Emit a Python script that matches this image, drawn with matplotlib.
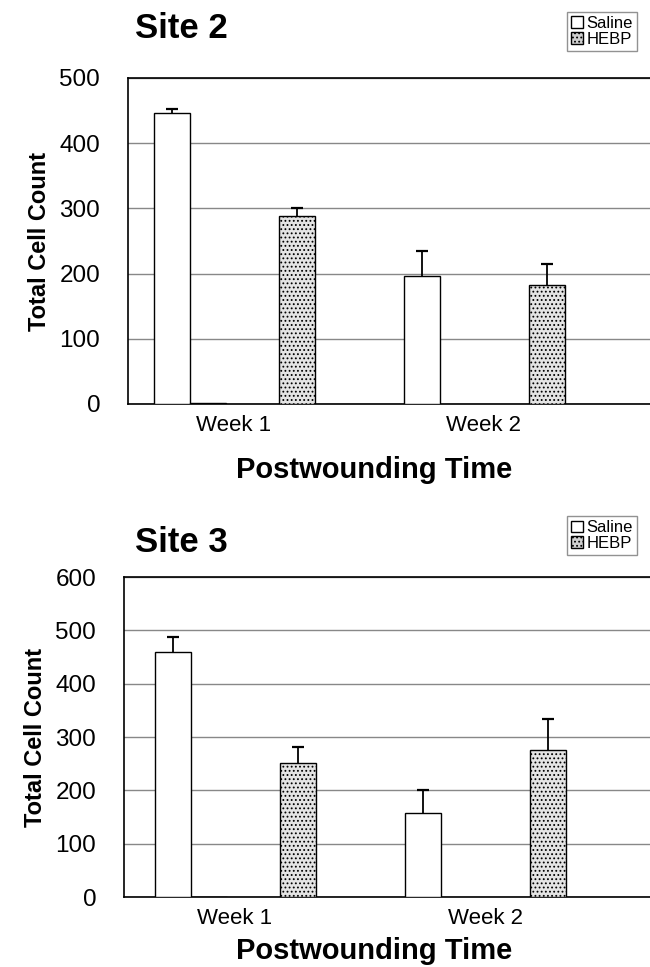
import matplotlib
matplotlib.use("Agg")
import matplotlib.pyplot as plt
from matplotlib.patches import Patch

plt.rcParams['font.family'] = ['Liberation Sans', 'DejaVu Sans']
plt.rcParams['hatch.color'] = '#b8b8b8'
plt.rcParams['hatch.linewidth'] = 0.8

# Data
weeks = ["Week 1", "Week 2"]
site2_saline = [446, 197]
site2_saline_err = [6, 37]
site2_hebp = [288, 182]
site2_hebp_err = [13, 32]

site3_saline = [460, 158]
site3_saline_err = [28, 42]
site3_hebp = [251, 276]
site3_hebp_err = [30, 58]

W, H = 650, 967
fig = plt.figure(figsize=(W / 100, H / 100), dpi=100)


def plus_err(ax, xs, vals, errs):
    # Excel style "plus" error bars: a stem up from the bar and a cap at the top
    tops = [v + e for v, e in zip(vals, errs)]
    ax.vlines(xs, vals, tops, color='black', linewidth=1.3, zorder=4)
    ax.scatter(xs, tops, marker='_', s=70, color='black', linewidths=1.6, zorder=4)


def make_panel(rect, title, saline, saline_err, hebp, hebp_err, ymax, xlim, title_y, leg_y, xlabel_y):
    ax = fig.add_axes(rect)
    x = [0, 1]
    bw = 0.144
    sx = [i - 0.25 for i in x]
    hx = [i + 0.25 for i in x]
    ax.bar(sx, saline, width=bw, color='white', edgecolor='black', linewidth=1.0, zorder=3)
    # empty series slot (zero height) drawn by the original chart
    ax.bar([-0.105], [0.8], width=bw, color='white', edgecolor='black', linewidth=1.0, zorder=3)
    ax.bar(hx, hebp, width=bw, color='#e4e4e4', edgecolor='black', linewidth=1.0,
           hatch='....', zorder=3)
    plus_err(ax, sx, saline, saline_err)
    plus_err(ax, hx, hebp, hebp_err)

    ax.set_xlim(*xlim)
    ax.set_ylim(0, ymax)
    ax.set_yticks(range(0, ymax + 1, 100))
    ax.set_xticks(x)
    ax.set_xticklabels(weeks)
    ax.tick_params(axis='x', labelsize=16, length=0, pad=8)
    ax.tick_params(axis='y', labelsize=17.5, length=0, pad=20)
    ax.yaxis.grid(True, color='#888888', linewidth=1.0)
    ax.set_axisbelow(True)
    ax.spines['right'].set_visible(False)
    for s in ['left', 'bottom', 'top']:
        ax.spines[s].set_linewidth(1.2)
    ax.set_ylabel("Total Cell Count", fontsize=17, fontweight='bold', labelpad=6)

    fig.text(135 / W, 1 - title_y / H, title, fontsize=25, fontweight='bold', va='center', ha='left')
    fig.text(374 / W, 1 - xlabel_y / H, "Postwounding Time", fontsize=21, fontweight='bold',
             va='center', ha='center')

    handles = [Patch(facecolor='white', edgecolor='black', label='Saline'),
               Patch(facecolor='#cfcfcf', edgecolor='black', hatch='....', label='HEBP')]
    fig.legend(handles=handles, loc='upper right', bbox_to_anchor=(637 / W, 1 - leg_y / H),
               fontsize=12, frameon=True, fancybox=False, edgecolor='#777777',
               handlelength=0.7, handleheight=0.7, handletextpad=0.2, borderpad=0.25,
               labelspacing=0.05, borderaxespad=0)
    return ax


make_panel([128 / W, 1 - 404 / H, 522 / W, (404 - 78) / H], "Site 2",
           site2_saline, site2_saline_err, site2_hebp, site2_hebp_err, 500,
           (-0.424, 1.664), 28, 12, 470)
make_panel([124 / W, 1 - 897 / H, 526 / W, (897 - 577) / H], "Site 3",
           site3_saline, site3_saline_err, site3_hebp, site3_hebp_err, 600,
           (-0.444, 1.66), 543, 516, 951)

fig.savefig("out.png", dpi=100)
